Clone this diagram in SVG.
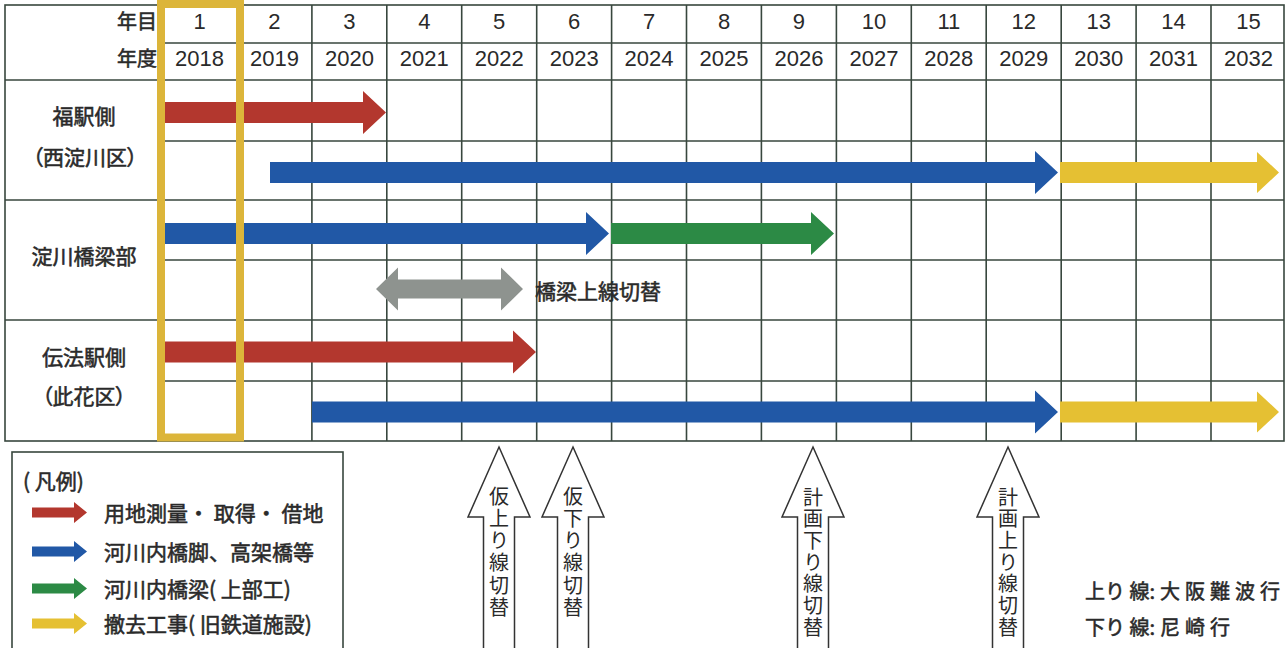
<svg xmlns="http://www.w3.org/2000/svg" width="1285" height="648" viewBox="0 0 1285 648">
<style>
.bg{fill:#ffffff}
.grid{stroke:#38473e;stroke-width:1.6;fill:none}
.jp{font-family:"Noto Sans CJK JP","Noto Sans CJK SC",sans-serif;fill:#2a2a2a}
.heavy{stroke:#2a2a2a;stroke-width:0.55px}
.num{font-family:"Liberation Sans Narrow","Liberation Sans",Arial,sans-serif;font-size:22px;fill:#2a2a2a;text-anchor:middle}
.hdr{font-size:20px;text-anchor:end}
.lbl{font-size:21px;text-anchor:middle}
.paren{font-feature-settings:"palt"}
.leg{font-size:21px}
.vt{font-size:20px;writing-mode:vertical-rl;text-orientation:upright;letter-spacing:2.3px}
.red{fill:#b3372e}
.blue{fill:#2158a6}
.green{fill:#2c8a45}
.yellow{fill:#e5c033}
.gray{fill:#8e938f}
.out{fill:#ffffff;stroke:#333333;stroke-width:1.5;stroke-linejoin:miter}
</style>
<rect class="bg" x="0" y="0" width="1285" height="648"/>

<g id="table">
  <rect class="grid" x="5" y="5" width="1279" height="436"/>
  <path class="grid" d="M162 5V441 M236.9 5V441 M311.9 5V441 M386.8 5V441 M461.7 5V441 M536.7 5V441 M611.6 5V441 M686.5 5V441 M761.4 5V441 M836.4 5V441 M911.3 5V441 M986.2 5V441 M1061.2 5V441 M1136.1 5V441 M1211 5V441"/>
  <path class="grid" d="M5 80H1284 M5 200H1284 M5 320H1284 M162 43H1284 M162 141H1284 M162 260H1284 M162 381H1284"/>
</g>

<g id="header">
  <text class="jp hdr heavy" x="157" y="28.5">年目</text>
  <text class="jp hdr heavy" x="157" y="65.5">年度</text>
  <text class="num" y="29"><tspan x="199.5">1</tspan><tspan x="274.4">2</tspan><tspan x="349.4">3</tspan><tspan x="424.3">4</tspan><tspan x="499.2">5</tspan><tspan x="574.2">6</tspan><tspan x="649.1">7</tspan><tspan x="724">8</tspan><tspan x="798.9">9</tspan><tspan x="873.9">10</tspan><tspan x="948.8">11</tspan><tspan x="1023.7">12</tspan><tspan x="1098.7">13</tspan><tspan x="1173.6">14</tspan><tspan x="1248.5">15</tspan></text>
  <text class="num" y="66"><tspan x="199.5">2018</tspan><tspan x="274.4">2019</tspan><tspan x="349.4">2020</tspan><tspan x="424.3">2021</tspan><tspan x="499.2">2022</tspan><tspan x="574.2">2023</tspan><tspan x="649.1">2024</tspan><tspan x="724">2025</tspan><tspan x="798.9">2026</tspan><tspan x="873.9">2027</tspan><tspan x="948.8">2028</tspan><tspan x="1023.7">2029</tspan><tspan x="1098.7">2030</tspan><tspan x="1173.6">2031</tspan><tspan x="1248.5">2032</tspan></text>
</g>

<g id="row-fuku">
  <text class="jp lbl heavy" x="84" y="124">福駅側</text>
  <text class="jp lbl paren heavy" x="85" y="165">（西淀川区）</text>
</g>
<g id="row-yodogawa">
  <text class="jp lbl heavy" x="84" y="263.5">淀川橋梁部</text>
</g>
<g id="row-denpo">
  <text class="jp lbl heavy" x="84" y="364.5">伝法駅側</text>
  <text class="jp lbl paren heavy" x="84" y="403.5">（此花区）</text>
</g>

<g id="connectors">
  <path class="red" d="M164 102H363V91L386 112.5L363 134V123H164Z"/>
  <path class="blue" d="M270 162H1035V151L1058 172.5L1035 194V183H270Z"/>
  <path class="yellow" d="M1060 162H1257V152L1279 172.5L1257 193V183H1060Z"/>
  <path class="blue" d="M164 223H586V212L609 233.5L586 255V244H164Z"/>
  <path class="green" d="M611 223H811V212L834 233.5L811 255V244H611Z"/>
  <path class="gray" d="M376 289L398 267.5V279.5H501V267.5L523 289L501 310.5V298.5H398V310.5Z"/>
  <path class="red" d="M164 341.5H513V330.5L536 352L513 373.5V362.5H164Z"/>
  <path class="blue" d="M312 401.5H1035V390.5L1058 412L1035 433.5V422.5H312Z"/>
  <path class="yellow" d="M1060 401.5H1257V391.5L1279 412L1257 432.5V422.5H1060Z"/>
</g>

<g id="bridge-label">
  <text class="jp leg heavy" x="535" y="298.5">橋梁上線切替</text>
</g>

<g id="year1-highlight">
  <rect x="161" y="4" width="79" height="433.5" fill="none" stroke="#dcb53a" stroke-width="8"/>
</g>

<g id="legend">
  <rect x="12" y="452" width="331" height="210" fill="none" stroke="#38473e" stroke-width="1.6"/>
  <text class="jp leg heavy" x="23" y="489">(  凡例)</text>
  <path class="red" d="M32 507.5H74V502L87 512.5L74 523V517.5H32Z"/>
  <text class="jp leg heavy" x="104" y="521">用地測量・ 取得・ 借地</text>
  <path class="blue" d="M32 546.5H74V541L87 551.5L74 562V556.5H32Z"/>
  <text class="jp leg heavy" x="104" y="560">河川内橋脚、高架橋等</text>
  <path class="green" d="M32 583.5H74V578L87 588.5L74 599V593.5H32Z"/>
  <text class="jp leg heavy" x="104" y="597">河川内橋梁( 上部工)</text>
  <path class="yellow" d="M32 618.5H74V613L87 623.5L74 634V628.5H32Z"/>
  <text class="jp leg heavy" x="104" y="632">撤去工事( 旧鉄道施設)</text>
</g>

<g id="switch-1">
  <path class="out" d="M499 447L530 517H514.5V652H483.5V517H468Z"/>
  <text class="jp vt" x="499" y="486">仮上り線切替</text>
</g>
<g id="switch-2">
  <path class="out" d="M573 447L604 517H588.5V652H557.5V517H542Z"/>
  <text class="jp vt" x="573" y="486">仮下り線切替</text>
</g>
<g id="switch-3">
  <path class="out" d="M813 447L844 517H828.5V652H797.5V517H782Z"/>
  <text class="jp vt" x="813" y="487" style="letter-spacing:1.7px">計画下り線切替</text>
</g>
<g id="switch-4">
  <path class="out" d="M1008 447L1039 517H1023.5V652H992.5V517H977Z"/>
  <text class="jp vt" x="1008" y="487" style="letter-spacing:1.7px">計画上り線切替</text>
</g>

<g id="direction-note">
  <text class="jp heavy" font-size="20" x="1085" y="599">上り 線: <tspan x="1160" letter-spacing="5">大阪難波行</tspan></text>
  <text class="jp heavy" font-size="20" x="1085" y="635">下り 線: <tspan x="1160" letter-spacing="5">尼崎行</tspan></text>
</g>
</svg>
